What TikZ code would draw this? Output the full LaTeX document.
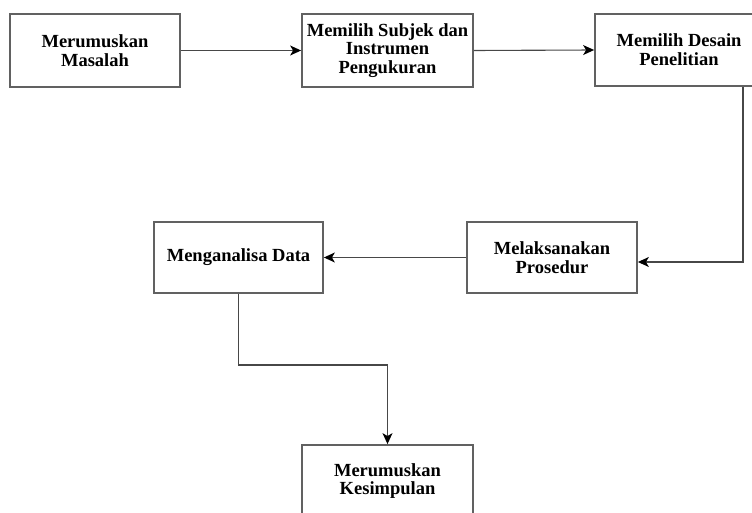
\documentclass[tikz,border=0pt]{standalone}
\usepackage{fontspec}
\setmainfont{Liberation Serif}
\usetikzlibrary{arrows.meta}
\begin{document}
\begin{tikzpicture}[x=1pt,y=-1pt,
  box/.style={draw=black!62,line width=1.8pt,fill=white,align=center,inner sep=2pt,
    font=\bfseries\fontsize{18.5}{18.7}\selectfont},
  arr/.style={draw=black!72,line width=1.1pt,-{Stealth[length=11pt,width=10pt,inset=3pt,fill=black,color=black]}}]
\useasboundingbox (0,0) rectangle (752,513);
\clip (0,0) rectangle (752,513);
\node[box,minimum width=170pt,minimum height=73pt] (b1) at (95,50.5) {Merumuskan\\Masalah};
\node[box,minimum width=171pt,minimum height=73pt] (b2) at (387.5,50.5) {Memilih Subjek dan\\Instrumen\\Pengukuran};
\node[box,minimum width=168pt,minimum height=72pt] (b3) at (679,50) {Memilih Desain\\Penelitian};
\node[box,minimum width=170pt,minimum height=71pt] (b4) at (552,257.5) {Melaksanakan\\Prosedur};
\node[box,minimum width=169pt,minimum height=71pt] (b5) at (238.5,257.5) {Menganalisa Data};
\node[box,minimum width=171pt,minimum height=72pt] (b6) at (387.5,481) {Merumuskan\\Kesimpulan};
\coordinate (c1) at (743,262);
\coordinate (m) at (300,365);
\draw[arr] (b1.east) -- (b2.west);
\draw[arr] (b2.east) -- (b3.west);
\draw[arr] (b3.south -| c1) -- (c1) -- (b4.east |- c1);
\draw[arr] (b4.west) -- (b5.east);
\draw[arr] (b5.south) -- (b5.south |- m) -| (b6.north);
\end{tikzpicture}
\end{document}
